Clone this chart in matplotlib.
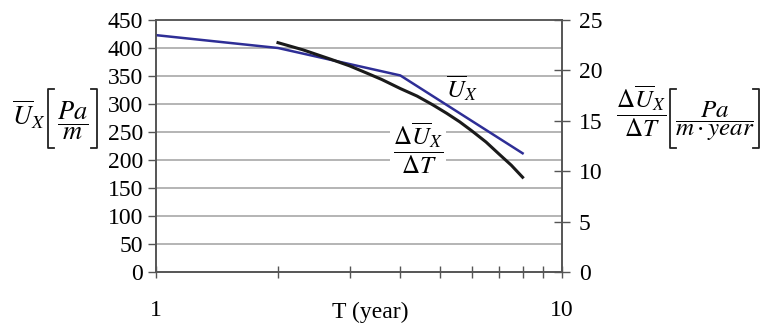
import matplotlib
matplotlib.use('Agg')
import matplotlib.pyplot as plt
from matplotlib.lines import Line2D
from matplotlib.ticker import FixedLocator, NullFormatter

plt.rcParams['font.family'] = ['Liberation Serif', 'DejaVu Serif']
plt.rcParams['mathtext.fontset'] = 'stix'

# Ū_X (левая ось)
t_u = [1.0, 2.0, 4.0, 8.0]
u_x = [423, 400, 351, 212]

# ΔŪ_X/ΔT (правая ось)
t_du = [2.0, 2.3, 2.7, 3.0, 3.3, 3.6, 4.0, 4.4, 4.8, 5.2, 5.6, 6.0, 6.5, 7.0, 7.5, 8.0]
du_dt = [22.75, 22.05, 21.1, 20.45, 19.75, 19.1, 18.2, 17.45, 16.6, 15.75, 14.9,
         14.0, 12.9, 11.7, 10.6, 9.4]

left_ticks = list(range(0, 451, 50))
right_ticks = [0, 5, 10, 15, 20, 25]

spine_col = '#555555'
grid_col = '#a8a8a8'
W, H = 762, 324

fig = plt.figure(figsize=(7.62, 3.24), dpi=100)
ax = fig.add_axes([0.2043, 0.1605, 0.5332, 0.7778])
ax2 = ax.twinx()

ax.set_xscale('log')
ax.set_xlim(1, 10)
ax.set_ylim(0, 450)
ax2.set_ylim(0, 25)

# сетка по левой оси
for v in left_ticks[1:-1]:
    ax.axhline(v, color=grid_col, lw=1.2, zorder=0)

ax.plot(t_u, u_x, color='#2e2e96', lw=1.8, zorder=3)
ax2.plot(t_du, du_dt, color='#1a1a1a', lw=2.2, zorder=3)

ax.set_yticks(left_ticks)
ax2.set_yticks(right_ticks)
ax.xaxis.set_major_locator(FixedLocator([1, 10]))
ax.xaxis.set_minor_locator(FixedLocator(range(2, 10)))
ax.xaxis.set_minor_formatter(NullFormatter())
ax.set_xticklabels(['1', '10'])

ax.tick_params(axis='y', direction='out', length=6, width=1, color=spine_col,
               labelsize=17, pad=3)
ax.tick_params(axis='x', which='both', direction='inout', length=8, width=1,
               color=spine_col, labelsize=17, pad=16)
ax2.tick_params(axis='y', direction='inout', length=12, width=1, color=spine_col,
                labelsize=17, pad=6)

for a in (ax, ax2):
    for s in a.spines.values():
        s.set_color(spine_col)
        s.set_linewidth(1.2)
ax.spines['top'].set_color('#777777')

ax.set_xlabel('T (year)', fontsize=17)
ax.xaxis.set_label_coords(0.528, -0.118)


def ftext(x, y, s, **kw):
    # координаты в пикселях от верхнего левого угла
    fig.text(x / W, 1 - y / H, s, **kw)


def bracket(x, y0, y1, side):
    d = 6 if side == 'left' else -6
    xs = [x + d, x, x, x + d]
    ys = [y0, y0, y1, y1]
    fig.add_artist(Line2D([v / W for v in xs], [1 - v / H for v in ys],
                          transform=fig.transFigure, color='#222222', lw=1.3))


# подпись левой оси
ftext(12, 125, r'$\overline{U}_X$', fontsize=19, ha='left', va='baseline')
bracket(48, 89, 148, 'left')
ftext(73, 121, r'$\dfrac{Pa}{m}$', fontsize=19, ha='center', va='center')
bracket(97, 89, 148, 'right')

# подпись правой оси
ftext(641, 111, r'$\dfrac{\Delta\overline{U}_X}{\Delta T}$', fontsize=18,
      ha='center', va='center')
bracket(670, 89, 148, 'left')
ftext(715, 121, r'$\dfrac{Pa}{m\cdot year}$', fontsize=18, ha='center', va='center')
bracket(759, 89, 148, 'right')

ax.text(0.755, 0.73, r'$\overline{U}_X$', transform=ax.transAxes,
        fontsize=18, ha='center', va='center', zorder=5)
ax.text(0.646, 0.492, r'$\dfrac{\Delta\overline{U}_X}{\Delta T}$', transform=ax.transAxes,
        fontsize=18, ha='center', va='center', zorder=5,
        bbox=dict(facecolor='white', edgecolor='none', pad=2))

fig.savefig('out.png', dpi=100)
